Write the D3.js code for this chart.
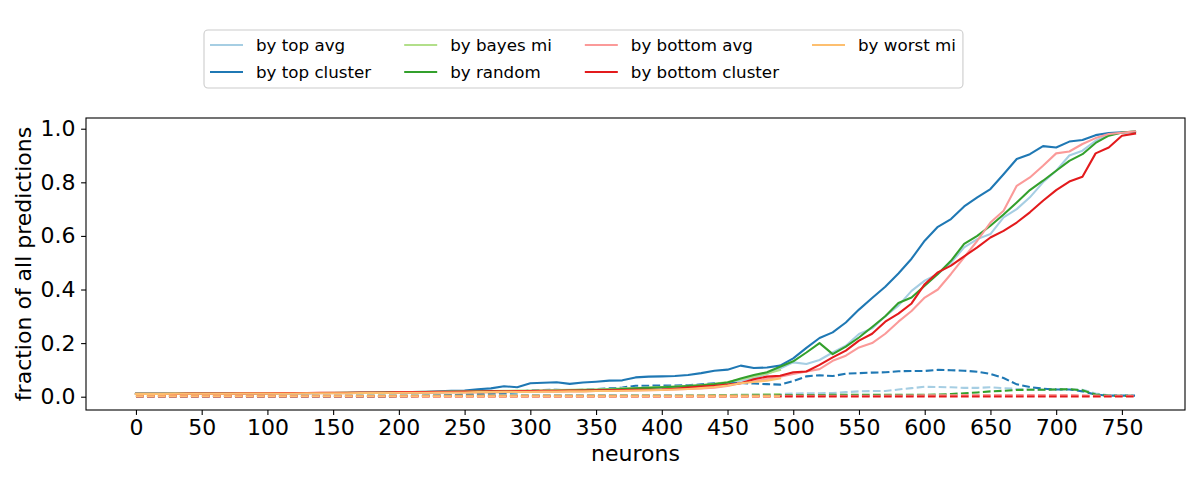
<!DOCTYPE html>
<html>
<head>
<meta charset="utf-8">
<title>fraction of all predictions by neurons</title>
<script src="https://cdn.jsdelivr.net/npm/d3@7"></script>
<style>
 body { margin:0; background:#fff; font-family:'DejaVu Sans', sans-serif; }
</style>
</head>
<body>
<div id="plot"></div>
<script>
  // x values (number of neurons)
  var neurons = [0,10,20,30,40,50,60,70,80,90,100,110,120,130,140,150,160,170,180,190,
    200,210,220,230,240,250,260,270,280,290,300,310,320,330,340,350,360,370,380,390,
    400,410,420,430,440,450,460,470,480,490,500,510,520,530,540,550,560,570,580,590,
    600,610,620,630,640,650,660,670,680,690,700,710,720,730,740,750,760];
  var xTicks = [0,50,100,150,200,250,300,350,400,450,500,550,600,650,700,750];
  var yTicks = [0, 0.2, 0.4, 0.6, 0.8, 1.0];
  var labels = ["by top avg", "by top cluster", "by bayes mi", "by random",
                "by bottom avg", "by bottom cluster", "by worst mi"];

  // solid lines
  var topAvg = [.011,.011,.011,.011,.011,.012,.012,.012,.012,.012,.013,.013,.013,.013,.014,.014,.014,.015,.015,.015,
    .016,.016,.017,.017,.018,.018,.019,.019,.020,.021,.022,.022,.023,.024,.025,.026,.027,.028,.030,.031,
    .033,.035,.037,.040,.044,.050,.060,.070,.085,.105,.128,.122,.137,.165,.190,.234,.255,.300,.340,.395,
    .433,.458,.500,.557,.588,.607,.669,.700,.744,.800,.843,.900,.918,.955,.978,.985,.988];
  var topCluster = [.011,.011,.011,.011,.011,.012,.012,.012,.012,.012,.013,.013,.013,.013,.014,.014,.014,.015,.015,.015,
    .016,.017,.018,.020,.022,.023,.028,.031,.039,.035,.050,.052,.054,.048,.053,.056,.060,.061,.072,.075,
    .076,.077,.081,.088,.097,.101,.116,.107,.109,.116,.143,.182,.219,.240,.277,.325,.368,.410,.460,.515,
    .582,.634,.663,.710,.744,.775,.830,.887,.905,.935,.930,.952,.958,.976,.984,.987,.988];
  var bayesMi = [.011,.011,.011,.012,.012,.012,.012,.012,.013,.013,.013,.013,.014,.014,.014,.015,.015,.015,.016,.016,
    .017,.017,.018,.018,.019,.020,.020,.021,.022,.023,.023,.024,.025,.026,.027,.028,.029,.031,.032,.034,
    .036,.038,.041,.044,.048,.055,.065,.075,.087,.100];
  var random = [.011,.011,.011,.011,.012,.012,.012,.012,.012,.013,.013,.013,.013,.014,.014,.014,.015,.015,.015,.016,
    .016,.016,.017,.017,.018,.018,.019,.019,.020,.020,.021,.021,.022,.023,.024,.025,.027,.029,.031,.033,
    .035,.037,.040,.043,.047,.053,.068,.081,.091,.112,.132,.165,.200,.159,.187,.221,.260,.300,.350,.370,
    .414,.458,.507,.570,.600,.638,.680,.725,.771,.806,.843,.880,.905,.947,.974,.986,.990];
  var bottomAvg = [.010,.010,.010,.010,.011,.011,.011,.011,.011,.012,.012,.012,.012,.013,.013,.013,.013,.014,.014,.014,
    .014,.015,.015,.015,.016,.016,.016,.017,.017,.018,.018,.019,.019,.020,.020,.021,.022,.022,.023,.024,
    .025,.027,.029,.031,.034,.040,.050,.058,.066,.075,.085,.094,.103,.134,.153,.184,.200,.235,.280,.320,
    .370,.400,.458,.520,.582,.650,.694,.787,.818,.862,.908,.915,.943,.965,.980,.985,.990];
  var bottomCluster = [.011,.011,.011,.011,.012,.012,.012,.012,.013,.013,.013,.014,.014,.014,.015,.015,.015,.016,.016,.016,
    .017,.017,.017,.018,.018,.019,.019,.020,.020,.021,.021,.022,.022,.023,.023,.024,.024,.025,.026,.026,
    .027,.030,.034,.038,.041,.045,.050,.065,.075,.078,.091,.094,.119,.147,.172,.209,.235,.280,.310,.348,
    .420,.464,.489,.524,.557,.594,.619,.650,.688,.731,.771,.803,.821,.908,.930,.974,.982];
  var worstMi = [.010,.010,.010,.011,.011,.011,.011,.011,.012,.012,.012,.012,.012,.013,.013,.013,.013,.014,.014,.014,
    .015,.015,.015,.016,.016,.016,.017,.017,.018,.018,.018,.019,.019,.020,.020,.021,.021,.022,.023,.024,
    .025,.027,.029,.032,.036,.042,.050,.055,.060,.068];

  // dashed lines
  var topAvgDash = [.004,.004,.004,.004,.004,.004,.004,.004,.004,.004,.004,.004,.004,.004,.004,.004,.004,.004,.004,.004,
    .004,.004,.005,.005,.005,.005,.005,.005,.006,.006,.006,.006,.006,.006,.006,.006,.006,.006,.006,.006,
    .006,.006,.006,.006,.006,.006,.007,.008,.009,.010,.012,.013,.013,.014,.017,.020,.021,.021,.027,.032,
    .037,.036,.035,.033,.033,.035,.032,.029,.027,.026,.028,.027,.026,.012,.005,.004,.004];
  var topClusterDash = [.001,.001,.001,.001,.001,.001,.001,.001,.001,.001,.001,.001,.001,.001,.001,.001,.001,.001,.001,.001,
    .002,.002,.003,.004,.006,.008,.010,.012,.014,.016,.024,.025,.026,.024,.026,.028,.031,.034,.041,.041,
    .042,.042,.043,.046,.050,.050,.051,.049,.047,.045,.058,.076,.080,.077,.086,.088,.090,.091,.095,.096,
    .096,.100,.099,.097,.093,.085,.070,.046,.036,.030,.027,.027,.020,.008,.004,.004,.004];
  var bayesMiDash = [.003,.003,.003,.003,.003,.003,.003,.003,.003,.003,.003,.003,.003,.003,.003,.003,.003,.003,.003,.003,
    .003,.003,.003,.003,.003,.003,.003,.003,.003,.003,.003,.003,.003,.003,.003,.003,.003,.004,.004,.004,
    .004,.004,.005,.005,.006,.006,.007,.008,.009,.010];
  var randomDash = [.003,.003,.003,.003,.003,.003,.003,.003,.003,.003,.003,.003,.003,.003,.003,.003,.003,.003,.003,.003,
    .003,.003,.003,.003,.003,.003,.003,.003,.003,.003,.003,.003,.003,.003,.003,.003,.003,.003,.003,.003,
    .003,.003,.003,.003,.004,.004,.004,.005,.005,.006,.006,.006,.006,.007,.007,.007,.007,.007,.007,.007,
    .007,.008,.010,.013,.016,.020,.022,.025,.026,.026,.027,.028,.024,.008,.004,.003,.003];
  var bottomAvgDash = [.003,.003,.003,.003,.003,.003,.003,.003,.003,.003,.003,.003,.003,.003,.003,.003,.003,.003,.003,.003,
    .003,.003,.003,.003,.003,.003,.003,.003,.003,.003,.003,.003,.003,.003,.003,.003,.003,.003,.003,.003,
    .003,.003,.003,.003,.003,.003,.003,.003,.003,.003,.003,.003,.003,.003,.003,.003,.003,.004,.004,.004,
    .005,.005,.005,.006,.006,.006,.006,.006,.006,.006,.006,.006,.005,.004,.003,.003,.003];
  var bottomClusterDash = [.001,.001,.001,.001,.001,.001,.001,.001,.001,.001,.001,.001,.001,.001,.001,.001,.001,.001,.001,.001,
    .001,.001,.001,.001,.001,.001,.001,.001,.001,.001,.001,.001,.001,.001,.001,.001,.001,.001,.001,.001,
    .001,.001,.001,.001,.001,.001,.001,.001,.001,.001,.001,.001,.001,.001,.001,.001,.001,.001,.001,.001,
    .001,.001,.001,.001,.001,.001,.001,.001,.001,.001,.001,.001,.001,.001,.001,.001,.001];
  var worstMiDash = [.002,.002,.002,.002,.002,.002,.002,.002,.002,.002,.002,.002,.002,.002,.002,.002,.002,.002,.002,.002,
    .002,.002,.002,.002,.002,.002,.002,.002,.002,.002,.002,.002,.002,.002,.002,.002,.002,.002,.002,.002,
    .002,.002,.002,.002,.002,.002,.002,.002,.002,.002];

  var solids = [topAvg, topCluster, bayesMi, random, bottomAvg, bottomCluster, worstMi];
  var dashes = [topAvgDash, topClusterDash, bayesMiDash, randomDash, bottomAvgDash, bottomClusterDash, worstMiDash];
  var colors = ["#a6cee3", "#1f78b4", "#b2df8a", "#33a02c", "#fb9a99", "#e31a1c", "#fdbf6f"];

  var w = 1200, h = 480;
  var plotLeft = 86, plotRight = 1185, plotTop = 118, plotBottom = 410;

  var vis = d3.select("#plot").append("svg")
      .attr("width", w)
      .attr("height", h);

  var x = d3.scaleLinear().domain([-38, 798]).range([plotLeft, plotRight]);
  var y = d3.scaleLinear().domain([-0.0496, 1.04]).range([plotBottom, plotTop]);

  var line = d3.line()
      .x(function(d, i) { return x(neurons[i]); })
      .y(function(d) { return y(d); });

  // lines, solid then dashed per series
  solids.forEach(function(s, k) {
    vis.append("path")
       .attr("d", line(s))
       .attr("fill", "none")
       .attr("stroke", colors[k])
       .attr("stroke-width", 2.08)
       .attr("stroke-linejoin", "round")
       .attr("stroke-linecap", "square");
    vis.append("path")
       .attr("d", line(dashes[k]))
       .attr("fill", "none")
       .attr("stroke", colors[k])
       .attr("stroke-width", 2.08)
       .attr("stroke-dasharray", "7.7,3.3");
  });

  // axes
  var xAxis = vis.append("g")
      .attr("transform", "translate(0," + plotBottom + ")")
      .call(d3.axisBottom(x).tickValues(xTicks).tickSize(4.9).tickPadding(4.5).tickFormat(d3.format("d")));
  var yAxis = vis.append("g")
      .attr("transform", "translate(" + plotLeft + ",0)")
      .call(d3.axisLeft(y).tickValues(yTicks).tickSize(4.9).tickPadding(5.5).tickFormat(d3.format(".1f")));

  [xAxis, yAxis].forEach(function(g) {
    g.select(".domain").remove();
    g.selectAll(".tick line").attr("stroke", "#000").attr("stroke-width", 1.1);
    g.selectAll(".tick text")
     .attr("fill", "#000")
     .style("font-family", "'DejaVu Sans', sans-serif")
     .style("font-size", "22px");
  });

  vis.append("rect")
     .attr("x", plotLeft).attr("y", plotTop)
     .attr("width", plotRight - plotLeft).attr("height", plotBottom - plotTop)
     .attr("fill", "none")
     .attr("stroke", "#000")
     .attr("stroke-width", 1.1);

  vis.append("text")
     .attr("x", (plotLeft + plotRight) / 2)
     .attr("y", 461)
     .attr("text-anchor", "middle")
     .style("font-size", "22px")
     .text("neurons");

  vis.append("text")
     .attr("transform", "translate(31," + (plotTop + plotBottom) / 2 + ") rotate(-90)")
     .attr("text-anchor", "middle")
     .style("font-size", "22px")
     .text("fraction of all predictions");

  // legend, 4 columns filled column-wise
  var lg = vis.append("g");
  var box = lg.append("rect")
     .attr("x", 204).attr("y", 30)
     .attr("height", 58)
     .attr("rx", 4)
     .attr("fill", "#fff")
     .attr("fill-opacity", 0.8)
     .attr("stroke", "#cccccc")
     .attr("stroke-width", 1.1);

  var rows = [45, 72];
  var cx = 210, endX = 0;
  for (var c = 0; c < 4; c++) {
    var maxW = 0;
    for (var r = 0; r < 2; r++) {
      var k = c * 2 + r;
      if (k >= labels.length) break;
      lg.append("line")
        .attr("x1", cx).attr("x2", cx + 33)
        .attr("y1", rows[r]).attr("y2", rows[r])
        .attr("stroke", colors[k])
        .attr("stroke-width", 2.08);
      var t = lg.append("text")
        .attr("x", cx + 46)
        .attr("y", rows[r])
        .attr("dy", "0.35em")
        .style("font-size", "16.7px")
        .text(labels[k]);
      maxW = Math.max(maxW, t.node().getComputedTextLength());
    }
    endX = cx + 46 + maxW;
    cx = endX + 33;
  }
  box.attr("width", endX + 7 - 204);
</script>
</body>
</html>
